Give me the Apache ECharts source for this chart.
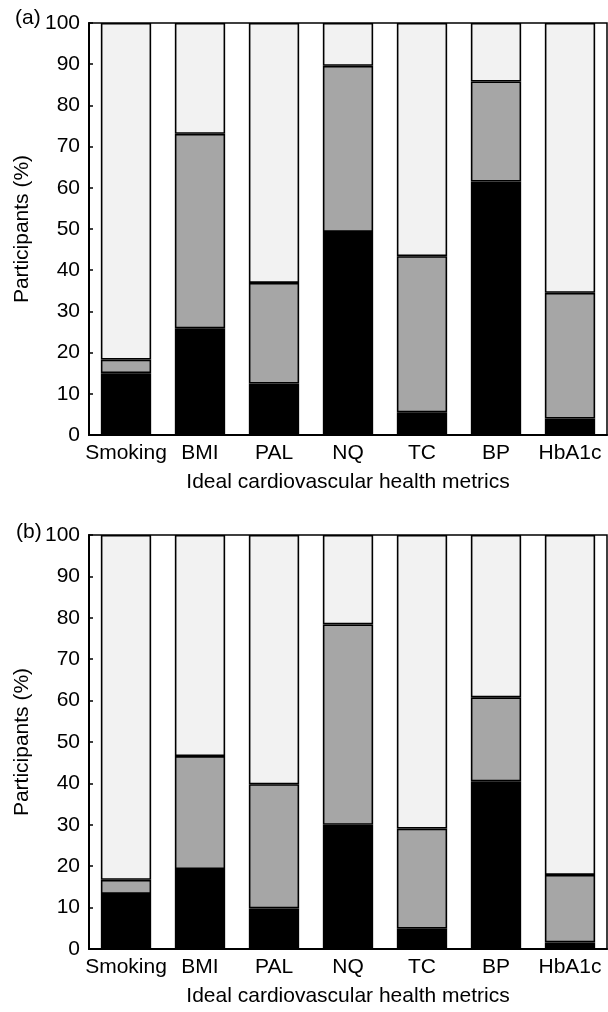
<!DOCTYPE html>
<html>
<head>
<meta charset="utf-8">
<script src="https://cdn.jsdelivr.net/npm/echarts@6/dist/echarts.min.js"></script>
<style>
html,body{margin:0;padding:0;background:#fff;}
#main{width:608px;height:1012px;}
</style>
</head>
<body>
<div id="main"></div>
<script>
const categories = ['Smoking', 'BMI', 'PAL', 'NQ', 'TC', 'BP', 'HbA1c'];
const yTicks = [0, 10, 20, 30, 40, 50, 60, 70, 80, 90, 100];
// Panel (a) segment values (%)
const aIdeal = [15.0, 25.9, 12.5, 49.3, 5.5, 61.5, 4.0];
const aIntermediate = [3.3, 47.2, 24.4, 40.3, 37.9, 24.3, 30.5];
const aPoor = [81.7, 26.9, 63.1, 10.4, 56.6, 14.2, 65.5];
// Panel (b) segment values (%)
const bIdeal = [13.3, 19.3, 9.8, 30.0, 4.9, 40.5, 1.6];
const bIntermediate = [3.4, 27.3, 30.0, 48.4, 24.2, 20.3, 16.3];
const bPoor = [83.3, 53.4, 60.2, 21.6, 70.9, 39.2, 82.1];

const FONT = "'Liberation Sans', Arial, sans-serif";
const FS = 21;
const chart = echarts.init(document.getElementById('main'), null, {renderer: 'canvas'});

function xAxisDef(gi) {
  return {
    type: 'category', gridIndex: gi, data: categories,
    axisLine: {show: true, lineStyle: {color: '#000', width: 2}},
    axisTick: {show: false},
    axisLabel: {color: '#000', fontSize: FS, fontFamily: FONT, margin: 8, interval: 0},
    name: 'Ideal cardiovascular health metrics',
    nameLocation: 'middle', nameGap: 37,
    nameTextStyle: {color: '#000', fontSize: FS, fontFamily: FONT}
  };
}
function yAxisDef(gi) {
  return {
    type: 'value', gridIndex: gi, min: 0, max: 100, interval: 10,
    axisLine: {show: true, lineStyle: {color: '#000', width: 2}},
    axisTick: {show: true, inside: true, length: 4, lineStyle: {color: '#000', width: 1.5}},
    splitLine: {show: false},
    axisLabel: {color: '#000', fontSize: FS, fontFamily: FONT, margin: 9,
      formatter: v => yTicks.includes(v) ? String(v) : ''},
    name: 'Participants (%)', nameLocation: 'middle', nameGap: 56,
    nameTextStyle: {color: '#000', fontSize: FS, fontFamily: FONT}
  };
}
function seriesDef(gi, data, color, stack) {
  return {
    type: 'bar', xAxisIndex: gi, yAxisIndex: gi, stack: stack, data: data,
    barWidth: '68%',
    itemStyle: {color: color, borderColor: '#000', borderWidth: 1.6},
    silent: true
  };
}

chart.setOption({
  animation: false,
  backgroundColor: '#fff',
  title: [
    {text: '(a)', left: 10, top: 3, textStyle: {fontSize: FS, fontWeight: 'normal', color: '#000', fontFamily: FONT}},
    {text: '(b)', left: 11, top: 517, textStyle: {fontSize: FS, fontWeight: 'normal', color: '#000', fontFamily: FONT}}
  ],
  grid: [
    {left: 89, right: 1, top: 23, bottom: 577, show: true, borderColor: '#000', borderWidth: 1.5, backgroundColor: 'transparent'},
    {left: 89, right: 1, top: 535, bottom: 63, show: true, borderColor: '#000', borderWidth: 1.5, backgroundColor: 'transparent'}
  ],
  xAxis: [xAxisDef(0), xAxisDef(1)],
  yAxis: [yAxisDef(0), yAxisDef(1)],
  series: [
    seriesDef(0, aIdeal, '#000000', 'a'),
    seriesDef(0, aIntermediate, '#a6a6a6', 'a'),
    seriesDef(0, aPoor, '#f2f2f2', 'a'),
    seriesDef(1, bIdeal, '#000000', 'b'),
    seriesDef(1, bIntermediate, '#a6a6a6', 'b'),
    seriesDef(1, bPoor, '#f2f2f2', 'b')
  ]
});
</script>
</body>
</html>
